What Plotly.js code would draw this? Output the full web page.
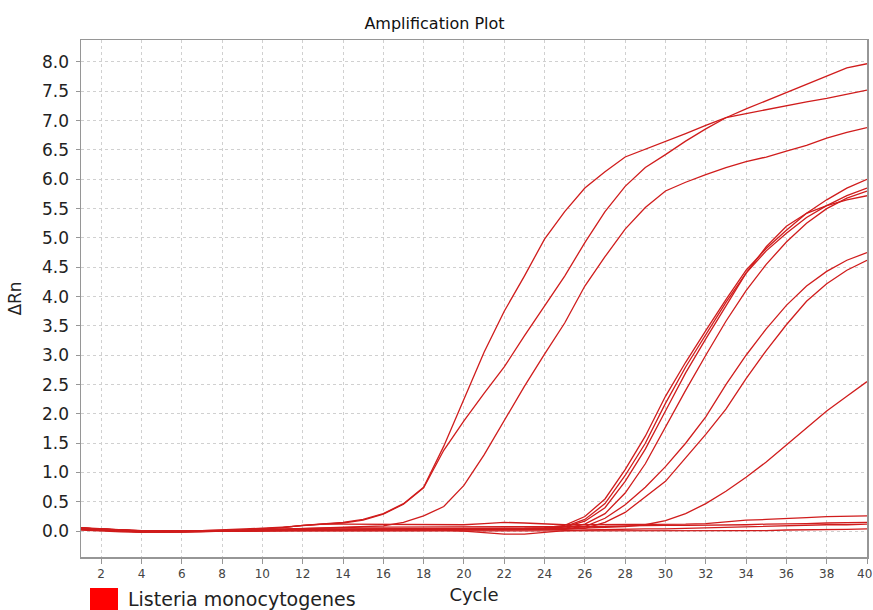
<!DOCTYPE html>
<html><head><meta charset="utf-8">
<script src="https://cdn.plot.ly/plotly-3.0.1.min.js"></script>
<style>html,body{margin:0;padding:0;background:#fff}</style></head>
<body><div id="chart" style="width:873px;height:610px"></div>
<script>
const cycles=[1,2,3,4,5,6,7,8,9,10,11,12,13,14,15,16,17,18,19,20,21,22,23,24,25,26,27,28,29,30,31,32,33,34,35,36,37,38,39,40];

const wellA1=[0.05,0.03,0.01,0.0,0.0,0.0,0.0,0.01,0.02,0.04,0.06,0.1,0.12,0.15,0.2,0.3,0.47,0.75,1.45,2.25,3.05,3.75,4.35,4.98,5.45,5.85,6.13,6.38,6.51,6.65,6.78,6.92,7.05,7.12,7.19,7.25,7.32,7.38,7.45,7.52];
const wellA2=[0.05,0.03,0.02,0.01,0.0,0.0,0.01,0.01,0.02,0.04,0.06,0.1,0.12,0.14,0.19,0.29,0.46,0.74,1.38,1.88,2.35,2.8,3.33,3.85,4.35,4.92,5.45,5.88,6.2,6.42,6.65,6.86,7.05,7.2,7.34,7.48,7.62,7.77,7.9,7.97];
const wellA3=[0.04,0.02,0.0,0.0,-0.01,0.0,0.0,0.0,0.01,0.02,0.03,0.04,0.05,0.06,0.07,0.09,0.15,0.26,0.42,0.78,1.3,1.88,2.47,3.02,3.55,4.18,4.68,5.15,5.52,5.8,5.95,6.08,6.2,6.3,6.38,6.48,6.58,6.7,6.8,6.88];
const wellB1=[0.05,0.03,0.01,0.0,0.0,-0.01,0.0,0.0,0.01,0.02,0.03,0.03,0.04,0.04,0.04,0.04,0.04,0.04,0.05,0.05,0.05,0.05,0.05,0.06,0.1,0.25,0.55,1.05,1.62,2.3,2.88,3.42,3.95,4.45,4.82,5.13,5.42,5.65,5.85,6.0];
const wellB2=[0.06,0.04,0.02,0.0,-0.01,-0.01,0.0,0.01,0.01,0.02,0.02,0.03,0.03,0.03,0.04,0.04,0.04,0.04,0.04,0.04,0.04,0.04,0.05,0.05,0.08,0.2,0.47,0.95,1.5,2.18,2.8,3.35,3.9,4.4,4.78,5.08,5.35,5.55,5.72,5.85];
const wellB3=[0.04,0.02,0.0,-0.01,-0.01,0.0,0.0,0.0,0.01,0.01,0.02,0.02,0.03,0.03,0.03,0.03,0.03,0.03,0.03,0.03,0.03,0.04,0.04,0.05,0.07,0.17,0.4,0.85,1.4,2.05,2.7,3.28,3.85,4.4,4.85,5.2,5.42,5.55,5.65,5.72];
const wellB4=[0.05,0.03,0.01,0.0,0.0,0.0,-0.01,0.0,0.0,0.01,0.02,0.02,0.02,0.03,0.03,0.03,0.03,0.03,0.03,0.03,0.04,0.04,0.04,0.04,0.05,0.12,0.3,0.65,1.15,1.78,2.4,3.0,3.58,4.1,4.55,4.93,5.25,5.5,5.68,5.8];
const wellB5=[0.03,0.02,0.0,-0.01,-0.01,-0.01,0.0,0.0,0.01,0.01,0.02,0.02,0.02,0.02,0.02,0.02,0.02,0.02,0.02,0.03,0.03,0.03,0.03,0.03,0.04,0.08,0.22,0.45,0.75,1.1,1.5,1.95,2.5,3.0,3.45,3.85,4.18,4.43,4.62,4.75];
const wellB6=[0.05,0.03,0.01,0.0,0.0,0.0,0.0,0.0,0.01,0.01,0.01,0.02,0.02,0.02,0.02,0.02,0.02,0.02,0.02,0.02,0.02,0.02,0.02,0.02,0.03,0.05,0.15,0.32,0.58,0.85,1.25,1.65,2.08,2.6,3.08,3.52,3.92,4.22,4.45,4.62];
const wellB7=[0.04,0.02,0.0,-0.01,-0.01,0.0,0.0,0.0,0.01,0.01,0.02,0.02,0.02,0.02,0.02,0.02,0.02,0.02,0.02,0.03,0.03,0.03,0.03,0.03,0.04,0.05,0.06,0.08,0.11,0.18,0.3,0.47,0.68,0.92,1.18,1.47,1.76,2.05,2.3,2.55];
const wellN1=[0.05,0.03,0.02,0.01,0.0,0.0,0.01,0.02,0.03,0.05,0.07,0.1,0.12,0.12,0.12,0.12,0.12,0.12,0.11,0.11,0.13,0.15,0.14,0.12,0.11,0.11,0.11,0.11,0.11,0.12,0.12,0.13,0.16,0.19,0.2,0.21,0.23,0.25,0.26,0.26];
const wellN2=[0.04,0.02,0.01,0.0,0.0,0.0,0.0,0.01,0.02,0.03,0.04,0.05,0.06,0.07,0.07,0.07,0.07,0.07,0.07,0.07,0.07,0.07,0.07,0.07,0.07,0.08,0.08,0.09,0.1,0.1,0.1,0.1,0.11,0.11,0.12,0.12,0.13,0.14,0.15,0.15];
const wellN3=[0.03,0.01,0.0,-0.01,-0.01,0.0,0.0,0.0,0.01,0.02,0.02,0.03,0.03,0.03,0.03,0.03,0.03,0.03,0.02,0.0,-0.03,-0.05,-0.05,-0.02,0.01,0.02,0.03,0.03,0.04,0.04,0.05,0.05,0.06,0.07,0.08,0.09,0.1,0.11,0.11,0.12];
const wellN4=[0.02,0.0,-0.01,-0.02,-0.02,-0.01,-0.01,0.0,0.0,0.01,0.01,0.01,0.01,0.01,0.01,0.01,0.01,0.01,0.01,0.01,0.0,0.0,0.0,0.0,0.01,0.01,0.01,0.01,0.01,0.01,0.01,0.01,0.01,0.01,0.01,0.02,0.02,0.03,0.03,0.04];

const xTickVals=[2,4,6,8,10,12,14,16,18,20,22,24,26,28,30,32,34,36,38,40];
const xTickText=['2','4','6','8','10','12','14','16','18','20','22','24','26','28','30','32','34','36','38','40'];
const yTickVals=[0,0.5,1,1.5,2,2.5,3,3.5,4,4.5,5,5.5,6,6.5,7,7.5,8];
const yTickText=['0.0','0.5','1.0','1.5','2.0','2.5','3.0','3.5','4.0','4.5','5.0','5.5','6.0','6.5','7.0','7.5','8.0'];
const targetName='Listeria monocytogenes';

const wells=[wellN4,wellN3,wellN2,wellN1,wellB7,wellB6,wellB5,wellB4,wellB3,wellB2,wellB1,wellA3,wellA2,wellA1];
const lineColor='rgb(208,28,28)';
const traces=wells.map(v=>({x:cycles,y:v,type:'scatter',mode:'lines',line:{color:lineColor,width:1.3},hoverinfo:'skip',showlegend:false}));

// the last x tick label would spill past the page edge; draw it as an annotation nudged inside
const lastIdx=xTickVals.length-1;
const shownXText=xTickText.map((t,i)=>i===lastIdx?'':t);

const font='DejaVu Sans, Arial, sans-serif';
const axisGray='rgb(150,150,150)';
const tickFontX={family:font,size:12,color:'#444'};
const layout={
  width:873,height:610,
  margin:{l:81,r:6,t:40,b:53,pad:0},
  paper_bgcolor:'#fff',plot_bgcolor:'#fff',
  showlegend:false,
  title:{text:'Amplification Plot',font:{family:font,size:16,color:'#111'},x:0.4977,xref:'container',xanchor:'center',y:1-23/610,yref:'container',yanchor:'middle'},
  xaxis:{range:[1,40],tickmode:'array',tickvals:xTickVals,ticktext:shownXText,
    showgrid:true,gridcolor:'rgb(208,208,208)',griddash:'3px,3px',gridwidth:1,zeroline:false,
    showline:true,linecolor:axisGray,linewidth:1.5,mirror:true,
    ticks:'outside',ticklen:5,tickcolor:axisGray,tickwidth:1,
    tickfont:tickFontX,
    title:{text:'Cycle',font:{family:font,size:18,color:'#222'},standoff:8}},
  yaxis:{range:[-0.44,8.375],tickmode:'array',tickvals:yTickVals,ticktext:yTickText,
    showgrid:true,gridcolor:'rgb(208,208,208)',griddash:'3px,3px',gridwidth:1,zeroline:false,
    showline:true,linecolor:axisGray,linewidth:1.5,mirror:true,
    ticks:'outside',ticklen:4,tickcolor:axisGray,tickwidth:1,ticklabelstandoff:3,
    tickfont:{family:font,size:17,color:'#222'},
    title:{text:'ΔRn',font:{family:font,size:17,color:'#222'},standoff:16}},
  shapes:[{type:'rect',xref:'paper',yref:'paper',x0:(90-81)/786,x1:(118-81)/786,y0:(557-588)/517,y1:(557-620)/517,fillcolor:'#ff0000',line:{width:0},layer:'above'}],
  annotations:[
    {text:targetName,xref:'paper',yref:'paper',x:(126-81)/786,y:(557-586)/517,xanchor:'left',yanchor:'top',showarrow:false,font:{family:font,size:19,color:'#222'}},
    {text:xTickText[lastIdx],xref:'x',yref:'paper',x:xTickVals[lastIdx],xshift:-3,y:(557-573.5)/517,xanchor:'center',yanchor:'middle',showarrow:false,font:tickFontX}
  ]
};
Plotly.newPlot('chart',traces,layout,{staticPlot:true,displayModeBar:false});
</script></body></html>
